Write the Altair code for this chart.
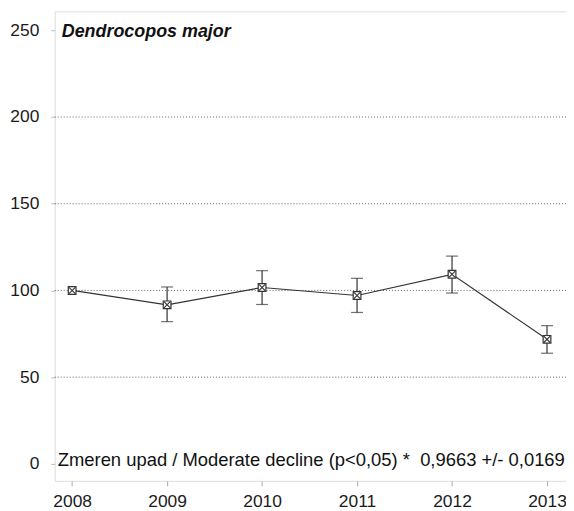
import altair as alt
import pandas as pd

years = [2008, 2009, 2010, 2011, 2012, 2013]
index = [100.0, 91.7, 101.7, 97.1, 109.3, 71.8]
upper = [100.0, 102.0, 111.4, 107.0, 119.8, 79.7]
lower = [100.0, 82.0, 91.9, 87.3, 98.5, 63.8]
grid_values = [50, 100, 150, 200]
y_ticks = [0, 50, 100, 150, 200, 250]
species = "Dendrocopos major"
trend_text = "Zmeren upad / Moderate decline (p<0,05) *\u00a0\u00a00,9663 +/- 0,0169"

df = pd.DataFrame({"year": years, "index": index, "upper": upper, "lower": lower})
err = df[df["upper"] != df["lower"]]
grid_df = pd.DataFrame({"g": grid_values})

FONT = "Liberation Sans"
xscale = alt.Scale(domain=[2007.817, 2013.2], nice=False, zero=False)
yscale = alt.Scale(domain=[-9.75, 260.9], nice=False, zero=False)

xaxis = alt.Axis(
    values=years, format="d", title=None, grid=False, domain=False,
    tickColor="#aaa", tickSize=5, labelFont=FONT, labelFontSize=17.5,
    labelColor="#1a1a1a", labelPadding=7)
yaxis = alt.Axis(
    values=y_ticks, title=None, grid=False, domain=False,
    tickColor="#bbb", tickSize=4, labelFont=FONT, labelFontSize=17.5,
    labelColor="#1a1a1a", labelPadding=12)

xenc = alt.X("year:Q", scale=xscale, axis=xaxis)
yenc = alt.Y("index:Q", scale=yscale, axis=yaxis)

grid = alt.Chart(grid_df).mark_rule(color="#666", strokeDash=[1, 2], strokeWidth=1).encode(
    y=alt.Y("g:Q", scale=yscale, axis=yaxis))

line = alt.Chart(df).mark_line(color="#333", strokeWidth=1.2).encode(x=xenc, y=yenc)

rules = alt.Chart(err).mark_rule(color="#333", strokeWidth=1.2).encode(
    x=xenc, y=alt.Y("lower:Q", scale=yscale, axis=yaxis), y2="upper:Q")
cap_hi = alt.Chart(err).mark_tick(color="#333", orient="horizontal", size=12, thickness=1.2).encode(
    x=xenc, y=alt.Y("upper:Q", scale=yscale, axis=yaxis))
cap_lo = alt.Chart(err).mark_tick(color="#333", orient="horizontal", size=12, thickness=1.2).encode(
    x=xenc, y=alt.Y("lower:Q", scale=yscale, axis=yaxis))

sq = alt.Chart(df).mark_point(shape="square", size=60, filled=True, fill="white",
                              stroke="#333", strokeWidth=1.2, opacity=1).encode(x=xenc, y=yenc)
xs = alt.Chart(df).mark_point(shape="M-1,-1L1,1M1,-1L-1,1", size=40, stroke="#333",
                              strokeWidth=1.1, filled=False, opacity=1).encode(x=xenc, y=yenc)

title_t = alt.Chart(pd.DataFrame({"t": [species]})).mark_text(
    font=FONT, fontSize=18, fontStyle="italic", fontWeight="bold", align="left",
    baseline="middle", color="#111").encode(text="t:N", x=alt.value(7), y=alt.value(21))
trend_t = alt.Chart(pd.DataFrame({"t": [trend_text]})).mark_text(
    font=FONT, fontSize=18.5, align="left", baseline="alphabetic", color="#111").encode(
    text="t:N", x=alt.value(3), y=alt.value(457))

chart = alt.layer(grid, line, rules, cap_hi, cap_lo, sq, xs, title_t, trend_t).properties(
    width=514, height=472,
    autosize=alt.AutoSizeParams(type="none"),
    padding={"left": 47, "top": 2, "right": 0, "bottom": 31},
).configure_view(stroke="#c8c8c8", strokeWidth=1.5).configure(background="white")

chart.save("out.html", embed_options={"renderer": "svg", "actions": False})
